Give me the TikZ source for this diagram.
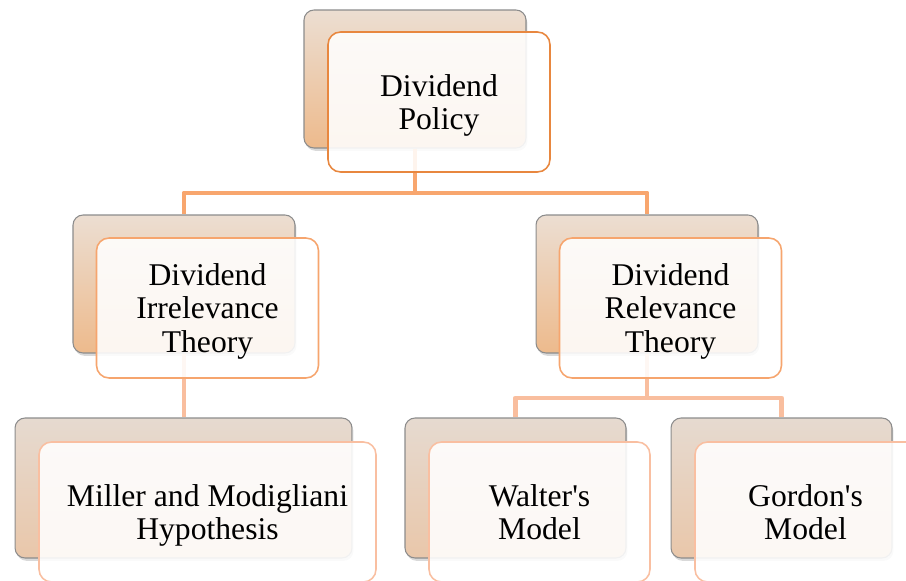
\documentclass[tikz,border=0pt]{standalone}
\usepackage{fontspec}
\setmainfont{Liberation Serif}
\usetikzlibrary{shadows}
\definecolor{lineA}{HTML}{F8A66E}
\definecolor{lineB}{HTML}{F9BE9E}
\definecolor{rimA}{HTML}{E8873F}
\definecolor{rimB}{HTML}{F6A56E}
\definecolor{rimC}{HTML}{F9BFA1}
\definecolor{topA}{HTML}{ECDED2}
\definecolor{botA}{HTML}{EDBA8C}
\definecolor{topC}{HTML}{E6DAD0}
\definecolor{botC}{HTML}{E9C7AA}
\tikzset{back/.style={rounded corners=0.2cm, draw=black!45, line width=0.6pt,
  top color=topA, bottom color=botA, minimum width=4.44cm, minimum height=2.76cm,
  drop shadow={shadow xshift=0.8pt, shadow yshift=-1.6pt, opacity=0.3}}}
\tikzset{backlow/.style={back, top color=topC, bottom color=botC, minimum height=2.8cm}}
\tikzset{front/.style={rounded corners=0.25cm, draw=rimA, line width=0.9pt,
  fill=white, fill opacity=0.88, text opacity=1, align=center,
  minimum width=4.44cm, minimum height=2.8cm,
  font=\fontsize{18}{19}\selectfont, text depth=0pt}}
\tikzset{conn/.style={line width=2.8pt, line join=round}}

\begin{document}
\begin{tikzpicture}[x=0.02cm, y=0.02cm]
  \useasboundingbox (0,0) rectangle (906,581);
  \node [back] (policyB) at (415,502) {};
  \node [back] (irrB) at (184,297) {};
  \node [back] (relB) at (647,297) {};
  \node [backlow, minimum width=6.74cm] (millerB) at (183.5,93) {};
  \node [backlow, minimum width=4.42cm] (walterB) at (515.5,93) {};
  \node [backlow, minimum width=4.42cm] (gordonB) at (781.5,93) {};
  \coordinate (forkA) at (415,388);
  \coordinate (forkB) at (647,183);
  \draw [conn, lineA] (policyB.south) -- (forkA) -| (irrB.north);
  \draw [conn, lineA] (forkA) -| (relB.north);
  \draw [conn, lineB] (irrB.south) -- (irrB.south |- millerB.north);
  \draw [conn, lineB] (relB.south) -- (forkB) -| (walterB.north);
  \draw [conn, lineB] (forkB) -| (gordonB.north);
  \node [front] (policy) at (439,479) {Dividend\\Policy};
  \node [front, draw=rimB] (irr) at (207.5,273) {Dividend\\Irrelevance\\Theory};
  \node [front, draw=rimB] (rel) at (670.5,273) {Dividend\\Relevance\\Theory};
  \node [front, draw=rimC, minimum width=6.74cm] (miller) at (207.5,69) {Miller and Modigliani\\Hypothesis};
  \node [front, draw=rimC, minimum width=4.42cm] (walter) at (539.5,69) {Walter\textquotesingle s\\Model};
  \node [front, draw=rimC, minimum width=4.7cm] (gordon) at (812.5,69) {\hspace*{-0.28cm}Gordon\textquotesingle s\\\hspace*{-0.28cm}Model};
\end{tikzpicture}
\end{document}
